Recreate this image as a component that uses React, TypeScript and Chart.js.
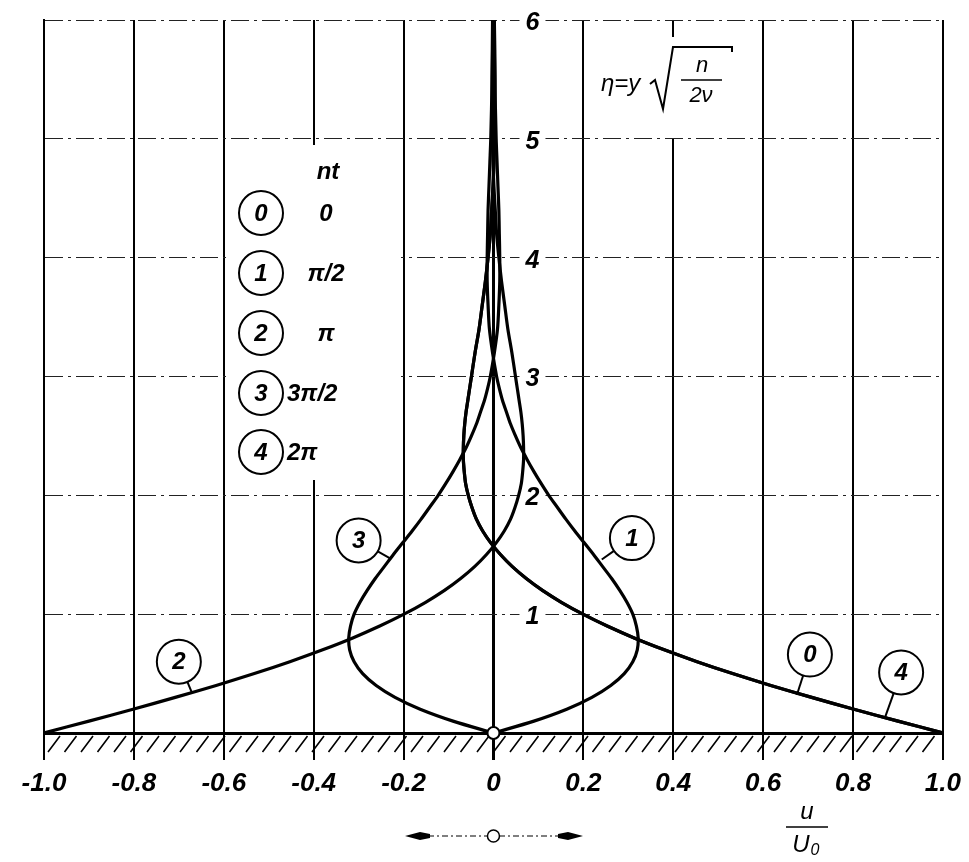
import React, { useEffect, useRef } from "react";
import { Chart, registerables } from "chart.js";

Chart.register(...registerables);

// eta = y * sqrt(n / 2nu)
const eta = [
  0, 0.1, 0.2, 0.3, 0.4, 0.5, 0.6, 0.7, 0.8, 0.9, 1.0, 1.1, 1.2, 1.3, 1.4, 1.5,
  1.6, 1.7, 1.8, 1.9, 2.0, 2.1, 2.2, 2.3, 2.4, 2.5, 2.6, 2.7, 2.8, 2.9, 3.0,
  3.2, 3.4, 3.6, 3.8, 4.0, 4.2, 4.4, 4.6, 4.8, 5.0, 5.5, 6.0,
];

// u/U0 for nt = 0
const u0 = [
  1.0, 0.9, 0.802, 0.708, 0.617, 0.532, 0.453, 0.38, 0.313, 0.253, 0.199, 0.151,
  0.109, 0.073, 0.042, 0.016, -0.006, -0.024, -0.038, -0.048, -0.056, -0.062,
  -0.065, -0.067, -0.067, -0.066, -0.064, -0.061, -0.057, -0.053, -0.049,
  -0.041, -0.032, -0.025, -0.018, -0.012, -0.007, -0.004, -0.001, 0.001, 0.002,
  0.003, 0.002,
];
// nt = pi/2
const u1 = [
  0, 0.09, 0.163, 0.219, 0.261, 0.291, 0.31, 0.32, 0.322, 0.318, 0.31, 0.297,
  0.281, 0.263, 0.243, 0.223, 0.202, 0.181, 0.161, 0.142, 0.123, 0.106, 0.09,
  0.075, 0.061, 0.049, 0.038, 0.029, 0.02, 0.013, 0.007, -0.002, -0.009, -0.012,
  -0.014, -0.014, -0.013, -0.012, -0.01, -0.008, -0.006, -0.003, -0.001,
];
// nt = pi
const u2 = [
  -1.0, -0.9, -0.802, -0.708, -0.617, -0.532, -0.453, -0.38, -0.313, -0.253,
  -0.199, -0.151, -0.109, -0.073, -0.042, -0.016, 0.006, 0.024, 0.038, 0.048,
  0.056, 0.062, 0.065, 0.067, 0.067, 0.066, 0.064, 0.061, 0.057, 0.053, 0.049,
  0.041, 0.032, 0.025, 0.018, 0.012, 0.007, 0.004, 0.001, -0.001, -0.002,
  -0.003, -0.002,
];
// nt = 3pi/2
const u3 = [
  0, -0.09, -0.163, -0.219, -0.261, -0.291, -0.31, -0.32, -0.322, -0.318, -0.31,
  -0.297, -0.281, -0.263, -0.243, -0.223, -0.202, -0.181, -0.161, -0.142,
  -0.123, -0.106, -0.09, -0.075, -0.061, -0.049, -0.038, -0.029, -0.02, -0.013,
  -0.007, 0.002, 0.009, 0.012, 0.014, 0.014, 0.013, 0.012, 0.01, 0.008, 0.006,
  0.003, 0.001,
];
// nt = 2pi
const u4 = [
  1.0, 0.9, 0.802, 0.708, 0.617, 0.532, 0.453, 0.38, 0.313, 0.253, 0.199, 0.151,
  0.109, 0.073, 0.042, 0.016, -0.006, -0.024, -0.038, -0.048, -0.056, -0.062,
  -0.065, -0.067, -0.067, -0.066, -0.064, -0.061, -0.057, -0.053, -0.049,
  -0.041, -0.032, -0.025, -0.018, -0.012, -0.007, -0.004, -0.001, 0.001, 0.002,
  0.003, 0.002,
];

const xTickLabels = ["-1.0", "-0.8", "-0.6", "-0.4", "-0.2", "0", "0.2", "0.4", "0.6", "0.8", "1.0"];
const yTickLabels = ["1", "2", "3", "4", "5", "6"];
const legendIds = ["0", "1", "2", "3", "4"];
const legendPhases = ["0", "π/2", "π", "3π/2", "2π"];

const FONT = "'Liberation Sans', Arial, sans-serif";

function circled(ctx: CanvasRenderingContext2D, cx: number, cy: number, r: number, t: string) {
  ctx.beginPath();
  ctx.arc(cx, cy, r, 0, Math.PI * 2);
  ctx.fillStyle = "#fff";
  ctx.fill();
  ctx.lineWidth = 2;
  ctx.strokeStyle = "#000";
  ctx.stroke();
  ctx.fillStyle = "#000";
  ctx.font = `italic bold 24px ${FONT}`;
  ctx.textAlign = "center";
  ctx.textBaseline = "middle";
  ctx.fillText(t, cx, cy + 1);
}

const decorPlugin = {
  id: "decor",
  beforeDatasetsDraw(chart: any) {
    const { ctx, chartArea: ca, scales } = chart;
    const x = scales.x;
    const y = scales.y;
    ctx.save();
    ctx.fillStyle = "#fff";
    // gaps in the grid behind the legend and the eta label
    ctx.fillRect(226, 145, 175, 335);
    ctx.fillRect(595, 37, 150, 101);
    // gaps behind inline y labels
    const x0 = x.getPixelForValue(0);
    yTickLabels.forEach((t) => {
      const py = y.getPixelForValue(Number(t));
      ctx.fillRect(x0 + 26, py - 4, 26, 8);
    });
    // hatching below the wall
    ctx.beginPath();
    ctx.lineWidth = 1.6;
    ctx.strokeStyle = "#000";
    for (let px = ca.left + 4; px < ca.right - 8; px += 16.5) {
      ctx.moveTo(px, ca.bottom + 19);
      ctx.lineTo(px + 12, ca.bottom + 3);
    }
    ctx.stroke();
    ctx.restore();
  },
  afterDatasetsDraw(chart: any) {
    const { ctx, chartArea: ca, scales } = chart;
    const x = scales.x;
    const y = scales.y;
    const x0 = x.getPixelForValue(0);
    ctx.save();

    // inline y labels
    ctx.fillStyle = "#000";
    ctx.font = `italic bold 25px ${FONT}`;
    ctx.textAlign = "center";
    ctx.textBaseline = "middle";
    yTickLabels.forEach((t) => {
      ctx.fillText(t, x0 + 39, y.getPixelForValue(Number(t)) + 3);
    });

    // origin marker
    ctx.beginPath();
    ctx.arc(x0, ca.bottom, 6, 0, Math.PI * 2);
    ctx.fillStyle = "#fff";
    ctx.fill();
    ctx.lineWidth = 2;
    ctx.strokeStyle = "#000";
    ctx.stroke();

    // callouts on the curves: [id, centre u, centre eta, end u, end eta]
    const callouts: [string, number, number, number, number][] = [
      ["3", -0.3, 1.62, -0.23, 1.47],
      ["1", 0.308, 1.64, 0.241, 1.46],
      ["2", -0.7, 0.6, -0.671, 0.34],
      ["0", 0.704, 0.66, 0.675, 0.32],
      ["4", 0.907, 0.51, 0.871, 0.13],
    ];
    const r = 22;
    callouts.forEach(([t, cu, ce, eu, ee]) => {
      const cx = x.getPixelForValue(cu);
      const cy = y.getPixelForValue(ce);
      const ex = x.getPixelForValue(eu);
      const ey = y.getPixelForValue(ee);
      const d = Math.hypot(ex - cx, ey - cy);
      ctx.beginPath();
      ctx.moveTo(cx + ((ex - cx) / d) * r, cy + ((ey - cy) / d) * r);
      ctx.lineTo(ex, ey);
      ctx.lineWidth = 2;
      ctx.strokeStyle = "#000";
      ctx.stroke();
      circled(ctx, cx, cy, r, t);
    });

    // legend
    const rows = [213, 273, 333, 393, 452];
    ctx.fillStyle = "#000";
    ctx.font = `italic bold 24px ${FONT}`;
    ctx.textAlign = "center";
    ctx.textBaseline = "middle";
    ctx.fillText("nt", 328, 172);
    legendIds.forEach((id, i) => {
      circled(ctx, 261, rows[i], r, id);
      ctx.fillStyle = "#000";
      ctx.font = `italic bold 24px ${FONT}`;
      ctx.textBaseline = "middle";
      if (i < 3) {
        ctx.textAlign = "center";
        ctx.fillText(legendPhases[i], 326, rows[i] + 1);
      } else {
        ctx.textAlign = "left";
        ctx.fillText(legendPhases[i], 287, rows[i] + 1);
      }
    });

    // eta definition
    ctx.fillStyle = "#000";
    ctx.strokeStyle = "#000";
    ctx.font = `italic 24px ${FONT}`;
    ctx.textAlign = "left";
    ctx.textBaseline = "middle";
    ctx.fillText("η=y", 601, 84);
    ctx.beginPath();
    ctx.lineWidth = 2;
    ctx.moveTo(650, 84);
    ctx.lineTo(655, 80);
    ctx.lineTo(663, 109);
    ctx.lineTo(673, 47);
    ctx.lineTo(732, 47);
    ctx.lineTo(732, 52);
    ctx.stroke();
    ctx.textAlign = "center";
    ctx.font = `italic 22px ${FONT}`;
    ctx.fillText("n", 702, 66);
    ctx.beginPath();
    ctx.lineWidth = 1.5;
    ctx.moveTo(681, 80);
    ctx.lineTo(722, 80);
    ctx.stroke();
    ctx.fillText("2ν", 701, 96);

    // u / U0 axis title
    ctx.font = `italic 24px ${FONT}`;
    ctx.fillText("u", 807, 812);
    ctx.beginPath();
    ctx.lineWidth = 1.5;
    ctx.moveTo(786, 827);
    ctx.lineTo(828, 827);
    ctx.stroke();
    ctx.fillText("U", 801, 845);
    ctx.font = `italic 16px ${FONT}`;
    ctx.fillText("0", 815, 851);

    // oscillation arrow
    const ay = 836;
    ctx.beginPath();
    ctx.setLineDash([6, 3, 2, 3]);
    ctx.lineWidth = 1.2;
    ctx.moveTo(428, ay);
    ctx.lineTo(487, ay);
    ctx.moveTo(499, ay);
    ctx.lineTo(560, ay);
    ctx.stroke();
    ctx.setLineDash([]);
    ctx.beginPath();
    ctx.arc(x0, ay, 6, 0, Math.PI * 2);
    ctx.lineWidth = 1.5;
    ctx.stroke();
    ctx.fillStyle = "#000";
    ctx.beginPath();
    ctx.moveTo(405, ay);
    ctx.lineTo(420, ay - 4);
    ctx.lineTo(430, ay - 2);
    ctx.lineTo(430, ay + 2);
    ctx.lineTo(420, ay + 4);
    ctx.closePath();
    ctx.fill();
    ctx.beginPath();
    ctx.moveTo(583, ay);
    ctx.lineTo(568, ay - 4);
    ctx.lineTo(558, ay - 2);
    ctx.lineTo(558, ay + 2);
    ctx.lineTo(568, ay + 4);
    ctx.closePath();
    ctx.fill();

    ctx.restore();
  },
};

export default function App() {
  const ref = useRef<HTMLCanvasElement | null>(null);

  useEffect(() => {
    if (!ref.current) return;
    const series = [u0, u1, u2, u3, u4];
    const chart = new Chart(ref.current, {
      type: "scatter",
      data: {
        datasets: series.map((s, k) => ({
          label: `nt ${legendPhases[k]}`,
          data: eta.map((e, i) => ({ x: s[i], y: e })),
          showLine: true,
          borderColor: "#000",
          backgroundColor: "#000",
          borderWidth: 3.2,
          pointRadius: 0,
          tension: 0.3,
        })),
      },
      options: {
        responsive: false,
        animation: false,
        devicePixelRatio: 1,
        layout: { padding: { left: 0, right: 26, top: 20, bottom: 0 } },
        plugins: {
          legend: { display: false },
          tooltip: { enabled: false },
        },
        scales: {
          x: {
            type: "linear",
            min: -1,
            max: 1,
            afterFit: (s: any) => {
              s.height = 129;
            },
            border: { display: true, color: "#000", width: 3 },
            grid: {
              color: "#000",
              lineWidth: (c: any) => (c.tick && Math.abs(c.tick.value) < 1e-9 ? 3 : 2),
              drawTicks: true,
              tickLength: 27,
            },
            ticks: {
              stepSize: 0.2,
              padding: 8,
              color: "#000",
              maxRotation: 0,
              autoSkip: false,
              font: { family: FONT, size: 26, style: "italic", weight: "bold" },
              callback: (v: any) => xTickLabels[Math.round((Number(v) + 1) / 0.2)] ?? "",
            },
          },
          y: {
            type: "linear",
            min: 0,
            max: 6,
            afterFit: (s: any) => {
              s.width = 44;
            },
            border: { display: true, color: "#000", width: 2, dash: [18, 5, 3, 5] },
            grid: { color: "#222", lineWidth: 1, drawTicks: false },
            ticks: { display: false, stepSize: 1 },
          },
        },
      },
      plugins: [decorPlugin],
    } as any);
    return () => chart.destroy();
  }, []);

  return (
    <div style={{ position: "fixed", left: 0, top: 0, width: 969, height: 862, background: "#fff" }}>
      <canvas ref={ref} width={969} height={862} />
    </div>
  );
}
